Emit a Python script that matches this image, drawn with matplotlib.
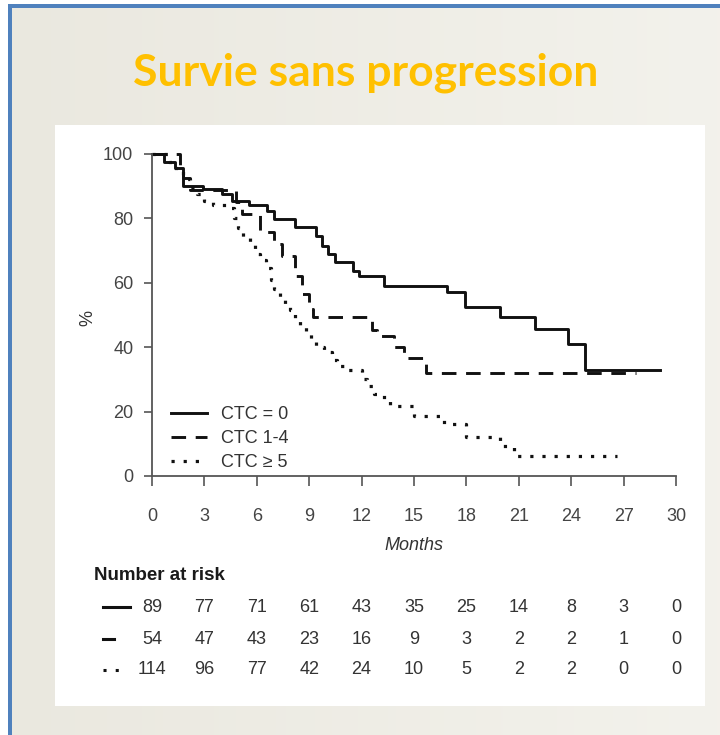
import matplotlib
matplotlib.use("Agg")
import matplotlib.pyplot as plt
import numpy as np
from matplotlib.patches import Rectangle
from matplotlib.lines import Line2D
from matplotlib.transforms import blended_transform_factory

# ---------------- data ----------------
title = "Survie sans progression"
group_labels = ["CTC = 0", "CTC 1-4", "CTC \u2265 5"]

# Kaplan-Meier step curves (time in months, % after the step)
ctc0_t = [0, 0.7, 1.3, 1.8, 2.9, 4.0, 4.6, 5.55, 6.6, 7.0, 8.2, 9.4, 9.75, 10.1, 10.5,
          11.5, 11.85, 13.3, 16.9, 17.9, 19.9, 21.9, 23.8, 24.8]
ctc0_s = [100, 97.6, 95.5, 90.2, 89.0, 87.6, 85.5, 84.3, 82.4, 79.8, 77.2, 74.6, 71.5, 68.9, 66.4,
          63.8, 62.2, 59.1, 57.0, 52.4, 49.3, 45.6, 41.0, 33.0]
ctc0_end = 29.1

ctc14_t = [0, 1.6, 1.8, 2.2, 4.8, 5.15, 6.2, 7.0, 7.45, 8.2, 8.6, 9.0, 9.2, 12.6, 12.9,
           13.85, 14.45, 15.7]
ctc14_s = [100, 96.3, 92.6, 88.9, 85.2, 81.4, 75.7, 72.0, 68.4, 62.2, 56.5, 51.9, 49.3, 45.3, 43.4,
           40.0, 36.5, 32.0]
ctc14_end = 27.7

ctc5_t = [0, 1.0, 1.4, 1.8, 2.2, 2.6, 3.0, 3.5, 4.5, 4.7, 4.9, 5.2, 5.6, 5.9, 6.2, 6.5, 6.8,
          7.0, 7.3, 7.6, 7.9, 8.2, 8.5, 8.8, 9.1, 9.4, 9.85, 10.3, 10.6, 11.0, 12.0, 12.3,
          12.7, 13.3, 13.6, 15.0, 16.7, 18.0, 19.9, 20.7]
ctc5_s = [100, 97.4, 94.7, 92.1, 89.5, 87.7, 85.5, 84.2, 83.3, 80.0, 77.0, 74.0, 72.0, 69.0, 67.0,
          64.5, 61.0, 58.0, 55.5, 53.5, 51.5, 49.0, 47.0, 44.5, 42.0, 40.0, 38.4, 36.0, 34.3, 32.9,
          30.1, 28.0, 25.5, 23.9, 21.8, 18.5, 16.1, 12.2, 9.2, 6.1]
ctc5_end = 26.6

x_ticks = [0, 3, 6, 9, 12, 15, 18, 21, 24, 27, 30]
y_ticks = [0, 20, 40, 60, 80, 100]

risk_ctc0 = [89, 77, 71, 61, 43, 35, 25, 14, 8, 3, 0]
risk_ctc14 = [54, 47, 43, 23, 16, 9, 3, 2, 2, 1, 0]
risk_ctc5 = [114, 96, 77, 42, 24, 10, 5, 2, 2, 0, 0]

# ---------------- figure ----------------
W, H = 720, 735
plt.rcParams['font.family'] = ['Liberation Sans', 'DejaVu Sans']
fig = plt.figure(figsize=(W / 100, H / 100), dpi=100)

def fx(x):
    return x / W

def fy(y):
    return 1 - y / H

# background gradient
bg = fig.add_axes([0, 0, 1, 1], zorder=-10)
grad = np.linspace(0, 1, 256)[None, :, None]
c0 = np.array([0.918, 0.910, 0.875])
c1 = np.array([0.953, 0.949, 0.925])
img = c0 + (c1 - c0) * grad
bg.imshow(np.repeat(img, 2, axis=0), aspect='auto', extent=[0, 1, 0, 1])
bg.set_xlim(0, 1); bg.set_ylim(0, 1)
bg.axis('off')
# white margins + blue frame
bg.add_patch(Rectangle((0, fy(4)), 1, 4 / H, color='white', lw=0))
bg.add_patch(Rectangle((0, 0), fx(8), 1, color='white', lw=0))
bg.add_patch(Rectangle((fx(8), fy(8)), 1, 4 / H, color='#4F81BD', lw=0))
bg.add_patch(Rectangle((fx(8), 0), 4 / W, fy(4), color='#4F81BD', lw=0))
# white panel
bg.add_patch(Rectangle((fx(55), fy(706)), (705 - 55) / W, (706 - 125) / H, color='white', lw=0))

fig.text(fx(366), fy(73), title, ha='center', va='center', color='#FFC000',
         fontsize=32, fontweight='bold', family=['Lato', 'DejaVu Sans'])

FS = 13

# main axes
L, R, T, B = 152, 676, 154, 476
ax = fig.add_axes([fx(L), fy(B), (R - L) / W, (B - T) / H])
ax.set_facecolor('none')
ax.set_xlim(0, 30)
ax.set_ylim(0, 100)
for sp in ['top', 'right']:
    ax.spines[sp].set_visible(False)
for sp in ['left', 'bottom']:
    ax.spines[sp].set_color('#555555')
    ax.spines[sp].set_linewidth(1.3)
ax.set_xticks(x_ticks)
ax.set_yticks(y_ticks)
ax.tick_params(axis='x', direction='out', length=7, width=1.2, color='#555555',
               labelsize=FS, labelcolor='#444444', pad=16)
ax.tick_params(axis='y', direction='out', length=5.5, width=1.2, color='#555555',
               labelsize=FS, labelcolor='#444444', pad=8)

lw = 2.1
col = '#111111'
def km(t, s, end):
    return list(t) + [end], list(s) + [s[-1]]

tt, ss = km(ctc0_t, ctc0_s, ctc0_end)
ax.step(tt, ss, where='post', color=col, lw=lw, label=group_labels[0], clip_on=False)
tt, ss = km(ctc14_t, ctc14_s, ctc14_end)
ax.step(tt, ss, where='post', color=col, lw=lw, linestyle=(0, (5, 3.3)), label=group_labels[1],
        clip_on=False)
tt, ss = km(ctc5_t, ctc5_s, ctc5_end)
ax.step(tt, ss, where='post', color=col, lw=2.3, linestyle=(0, (1, 2.8)), label=group_labels[2],
        clip_on=False)

leg = ax.legend(loc='lower left', bbox_to_anchor=(0.012, -0.025), frameon=False, fontsize=FS,
                handlelength=2.0, handletextpad=0.8, labelspacing=0.4, borderaxespad=0.3)
for t in leg.get_texts():
    t.set_color('#333333')

fig.text(fx(88), fy(318), '%', rotation=90, ha='center', va='center', fontsize=FS, color='#333333')
fig.text(fx(414), fy(545), 'Months', ha='center', va='center', fontsize=FS, style='italic',
         color='#333333')

# Number at risk
fig.text(fx(94), fy(575), 'Number at risk', ha='left', va='center', fontsize=13.5,
         fontweight='bold', color='#1a1a1a')
tr = blended_transform_factory(ax.transData, fig.transFigure)
rows_y = [607, 639, 670]
for yy, vals in zip(rows_y, [risk_ctc0, risk_ctc14, risk_ctc5]):
    for xv, v in zip(x_ticks, vals):
        ax.text(xv, fy(yy), str(v), transform=tr, ha='center', va='center', fontsize=FS,
                color='#333333', clip_on=False)
fig.add_artist(Line2D([fx(103), fx(130)], [fy(607), fy(607)], color=col, lw=2.2))
fig.add_artist(Line2D([fx(103), fx(114)], [fy(639), fy(639)], color=col, lw=2.2))
fig.add_artist(Line2D([fx(103), fx(122)], [fy(670), fy(670)], color=col, lw=2.2,
                      linestyle=(0, (1, 3))))

fig.savefig('out.png', dpi=100)
